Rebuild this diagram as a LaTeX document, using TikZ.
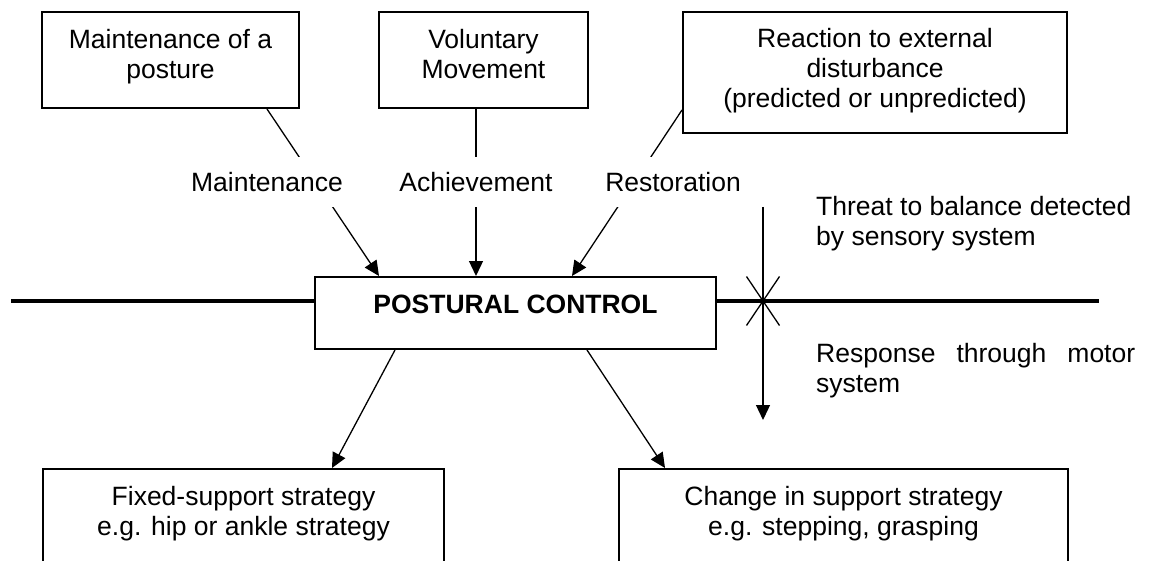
\documentclass[tikz,border=0pt]{standalone}
\usepackage{fontspec}
\setmainfont{Liberation Sans}
\usetikzlibrary{arrows.meta}

\begin{document}
\begin{tikzpicture}[x=1pt, y=-1pt,
	font=\fontsize{26.5}{30}\selectfont,
	blk/.style={draw, line width=2pt, align=center, inner sep=0pt},
	lbl/.style={fill=white, inner xsep=0pt, minimum height=50pt},
	arr/.style={line width=1.3pt, -{Triangle[length=15pt, width=14pt]}},
	note/.style={inner sep=0pt, align=left, anchor=north west}]
	\useasboundingbox (0,0) rectangle (1150,561);
	\clip (0,0) rectangle (1150,561);

	\node[blk, minimum width=257pt, minimum height=96pt, text depth=12pt] (posture) at (170.5,60) {Maintenance of a\\posture};
	\node[blk, minimum width=209pt, minimum height=96pt, text depth=12pt] (voluntary) at (483.5,60) {Voluntary\\Movement};
	\node[blk, minimum width=384pt, minimum height=121pt, text depth=9pt] (reaction) at (875,72.5) {Reaction to external\\disturbance\\(predicted or unpredicted)};
	\node[blk, minimum width=401pt, minimum height=72pt, text height=10pt, text depth=10pt,
		font=\fontsize{26.5}{30}\selectfont\bfseries] (control) at (515.5,313) {POSTURAL CONTROL};
	\node[blk, anchor=north, minimum width=401pt, inner ysep=17.5pt, text depth=90pt] (fixed) at (243.5,468) {Fixed-support strategy\\e.g. hip or ankle strategy};
	\node[blk, anchor=north, minimum width=449pt, inner ysep=17.5pt, text depth=90pt] (change) at (843.5,468) {Change in support strategy\\e.g. stepping, grasping};

	\coordinate (axisL) at (11,301);
	\coordinate (axisR) at (1099,301);
	\coordinate (cross) at (763,301);
	\coordinate (senseT) at (763,207);
	\coordinate (motorB) at (763,420);

	\draw[line width=4.5pt] (axisL) -- (axisL -| control.west);
	\draw[line width=4.5pt] (control.east |- axisR) -- (axisR);

	\draw[arr] ([xshift=96.5pt]posture.south) -- ([xshift=-136.5pt]control.north);
	\draw[arr] ([xshift=-7.5pt]voluntary.south) -- ([xshift=-39.5pt]control.north);
	\draw[arr] ([yshift=-37.5pt]reaction.west) -- ([xshift=56.5pt]control.north);
	\draw[arr] ([xshift=-120.5pt]control.south) -- ([xshift=88.5pt]fixed.north);
	\draw[arr] ([xshift=71.5pt]control.south) -- ([xshift=-178.5pt]change.north);
	\draw[arr] (senseT) -- (motorB);
	\draw[line width=1.3pt] (cross) +(-16.5,-24.5) -- +(16.5,24.5) +(16.5,-24.5) -- +(-16.5,24.5);

	\node[lbl] (maint) at (267,182) {Maintenance};
	\node[lbl] (achieve) at (476,182) {Achievement};
	\node[lbl] (restore) at (673,182) {Restoration};
	\node[note] (threat) at (816,196) {Threat to balance detected\\by sensory system};
	\node[note] (response) at (816,343) {\makebox[319pt][s]{Response through motor}\\system};
\end{tikzpicture}
\end{document}
